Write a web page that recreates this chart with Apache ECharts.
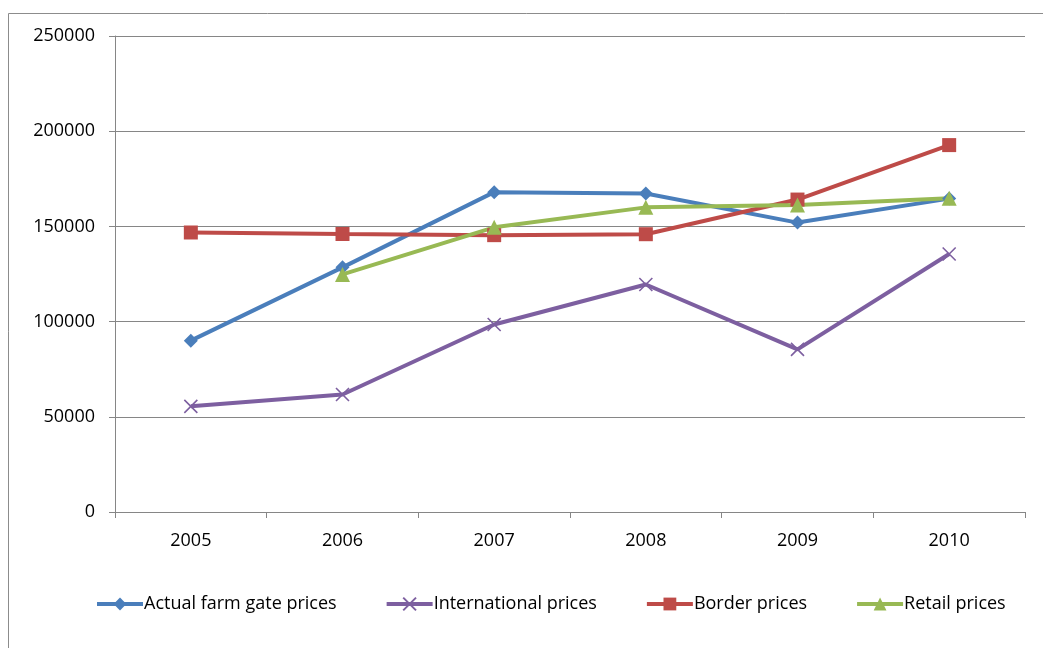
<!DOCTYPE html>
<html>
<head>
<meta charset="utf-8">
<script src="https://cdn.jsdelivr.net/npm/echarts@6/dist/echarts.min.js"></script>
<style>
  html, body { margin: 0; padding: 0; background: #fff; }
  #chart { width: 1043px; height: 648px; }
</style>
</head>
<body>
<div id="chart"></div>
<script>
// Price series, 2005-2010
const years = ['2005', '2006', '2007', '2008', '2009', '2010'];
const farmGate = [90000, 128500, 168000, 167300, 152000, 164600];
const international = [55500, 61700, 98500, 119500, 85400, 135500];
const border = [146800, 146000, 145400, 145900, 164100, 192700];
const retail = [null, 124800, 149500, 160000, 161300, 164800];
const yTicks = { min: 0, max: 250000, step: 50000 };

const FONT = 'Open Sans';
const crossPath = 'path://M0,0L10,10M10,0L0,10';

function lineSeries(name, data, color, symbol, size, extra) {
  return Object.assign({
    name: name,
    type: 'line',
    data: data,
    symbol: symbol,
    symbolSize: size,
    showAllSymbol: true,
    connectNulls: false,
    lineStyle: { color: color, width: 4 },
    itemStyle: { color: color },
    emphasis: { disabled: true },
    z: 3
  }, extra || {});
}

const chart = echarts.init(document.getElementById('chart'), null, { renderer: 'canvas' });
chart.setOption({
  animation: false,
  backgroundColor: '#ffffff',
  graphic: [{
    type: 'rect',
    shape: { x: 8.5, y: 13.5, width: 1200, height: 800 },
    style: { fill: 'none', stroke: '#8c8c8c', lineWidth: 1 },
    z: -10
  }],
  grid: { left: 115, right: 18, top: 36, bottom: 136, containLabel: false },
  legend: {
    top: 595,
    left: 95,
    padding: 0,
    itemWidth: 46,
    itemHeight: 16,
    itemGap: 48,
    lineStyle: { width: 4 },
    textStyle: { fontFamily: FONT, fontSize: 18, color: '#000', padding: [0, 0, 0, -4] },
    data: ['Actual farm gate prices', 'International prices', 'Border prices', 'Retail prices']
  },
  xAxis: {
    type: 'category',
    data: years,
    boundaryGap: true,
    axisLine: { lineStyle: { color: '#868686', width: 1 } },
    axisTick: { show: true, length: 6, lineStyle: { color: '#868686' } },
    axisLabel: { fontFamily: FONT, fontSize: 18, color: '#000', margin: 20 },
    splitLine: { show: false }
  },
  yAxis: {
    type: 'value',
    min: yTicks.min,
    max: yTicks.max,
    interval: yTicks.step,
    axisLine: { show: true, lineStyle: { color: '#868686', width: 1 } },
    axisTick: { show: true, length: 6, lineStyle: { color: '#868686' } },
    axisLabel: { fontFamily: FONT, fontSize: 18, color: '#000', margin: 20, formatter: v => String(v) },
    splitLine: { show: true, lineStyle: { color: '#868686', width: 1 } }
  },
  series: [
    lineSeries('Actual farm gate prices', farmGate, '#4A7EBB', 'diamond', 14),
    lineSeries('International prices', international, '#7D5FA0', crossPath, 13, {
      itemStyle: { color: '#7D5FA0', borderColor: '#7D5FA0', borderWidth: 1.6 }
    }),
    lineSeries('Border prices', border, '#BE4B48', 'rect', 14),
    lineSeries('Retail prices', retail, '#98B954', 'triangle', 15)
  ]
});
</script>
</body>
</html>
